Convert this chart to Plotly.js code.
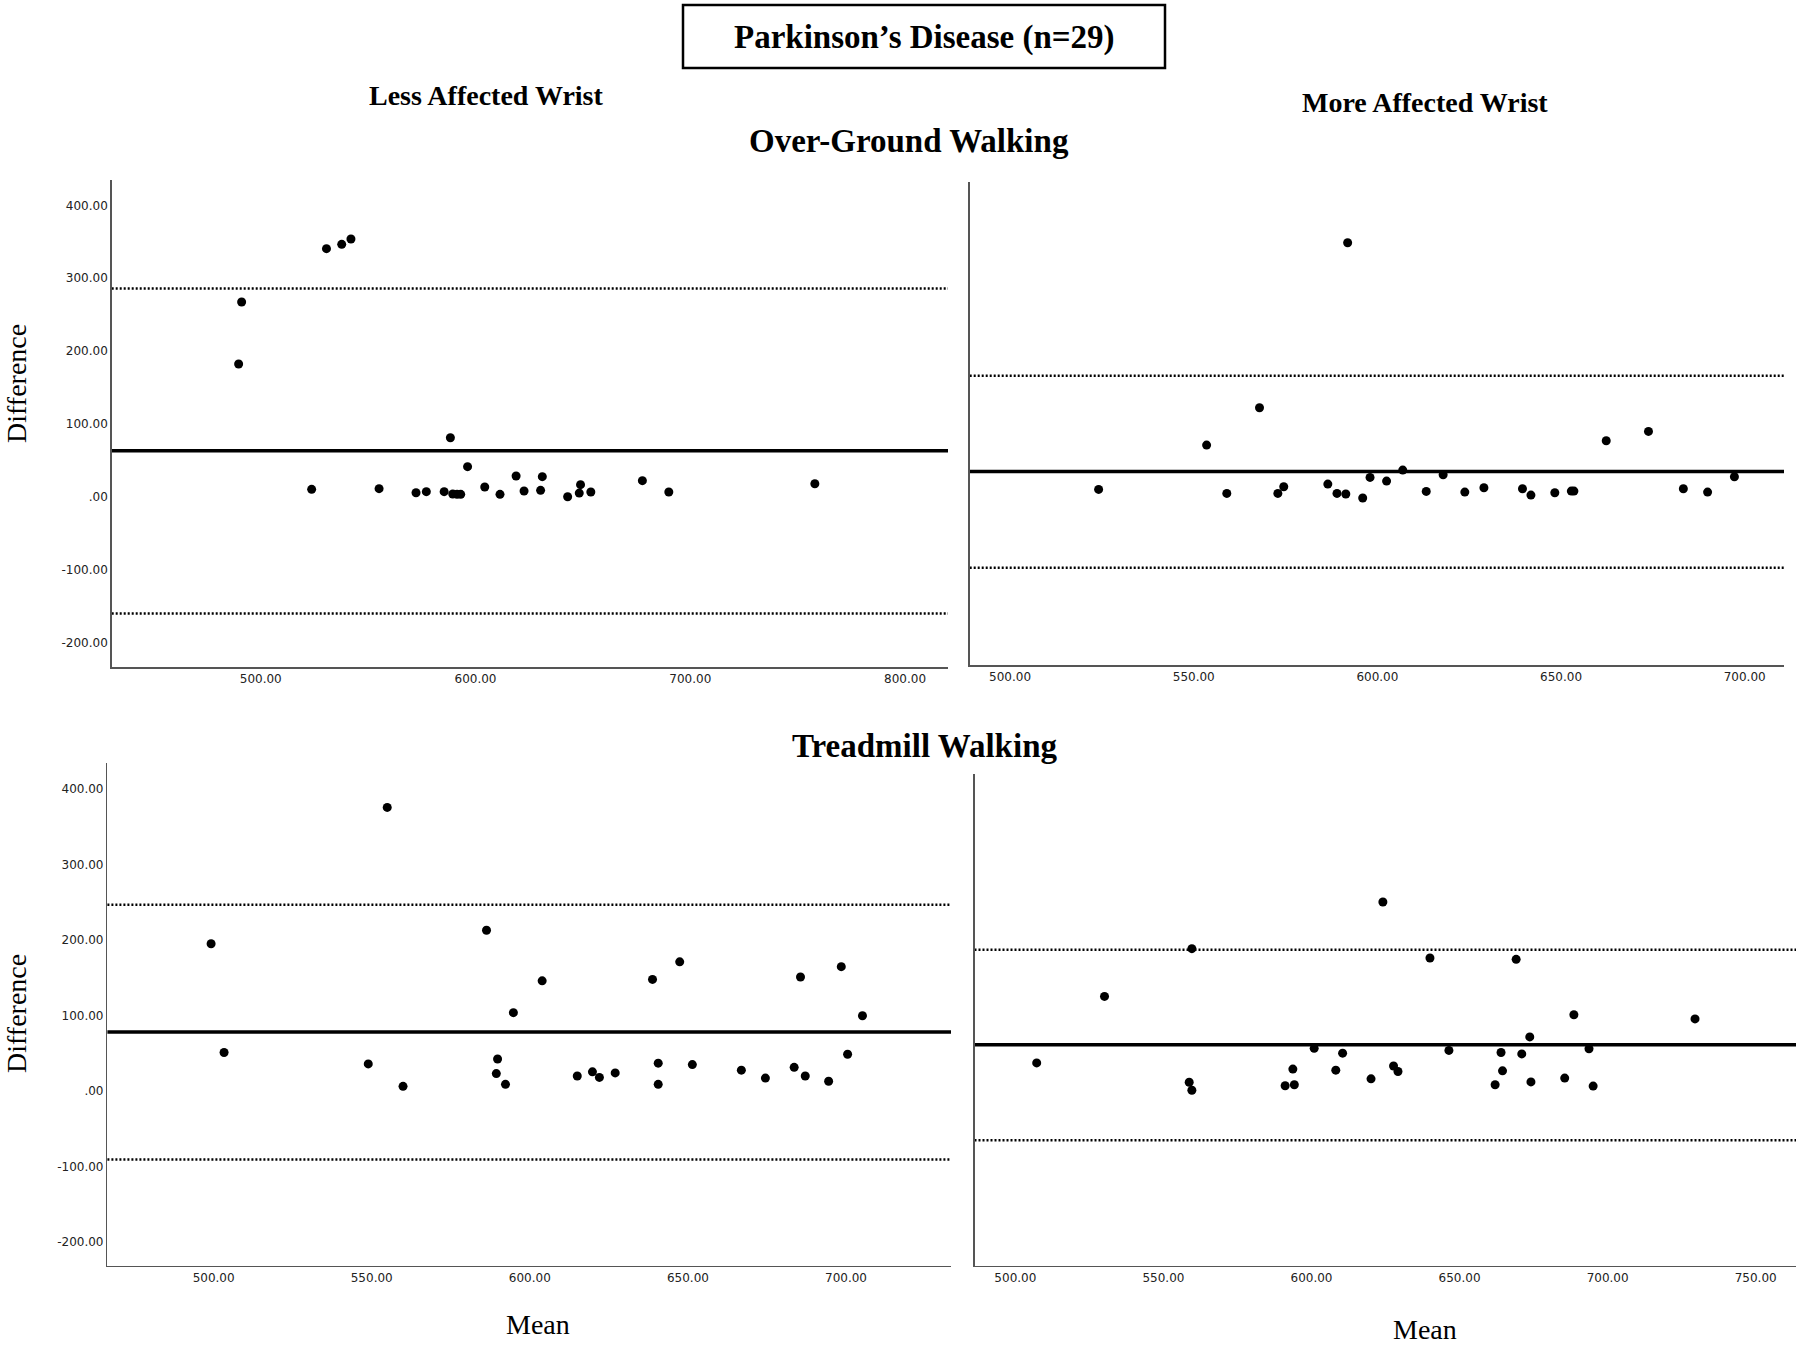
<!DOCTYPE html>
<html>
<head>
<meta charset="utf-8">
<script src="https://cdn.plot.ly/plotly-3.0.1.min.js"></script>
<style>html,body{margin:0;padding:0;background:#fff;}#chart{width:1800px;height:1349px;}</style>
</head>
<body>
<div id="chart"></div>
<script>
// ---- Data: Bland-Altman points (Mean, Difference) ----
// Over-ground walking, less affected wrist
const ogLessMean = [491.1, 489.7, 530.6, 537.7, 542.0, 523.7, 555.1, 572.3, 577.1, 585.4, 588.3, 589.4, 591.4, 593.1, 596.3, 604.3, 611.4, 618.9, 622.6, 630.3, 631.1, 642.9, 648.3, 648.9, 653.7, 677.7, 690.0, 758.0];
const ogLessDiff = [267.3, 182.2, 340.5, 346.5, 353.8, 10.1, 11.0, 5.5, 6.9, 6.9, 81.0, 3.7, 3.2, 3.2, 41.2, 13.3, 3.2, 28.4, 7.8, 8.7, 27.5, 0.0, 5.0, 16.5, 6.4, 22.0, 6.4, 17.8];
// Over-ground walking, more affected wrist
const ogMoreMean = [524.1, 553.5, 559.0, 567.9, 572.9, 574.5, 586.5, 589.0, 591.4, 591.9, 596.0, 598.0, 602.5, 606.9, 613.3, 617.9, 623.8, 629.0, 639.5, 641.8, 648.3, 652.8, 653.5, 662.3, 673.8, 683.3, 689.9, 697.2];
const ogMoreDiff = [10.1, 70.9, 4.6, 122.2, 4.6, 13.7, 17.4, 4.6, 3.7, 348.7, -1.8, 26.5, 21.5, 36.6, 7.3, 30.2, 6.4, 12.4, 11.0, 2.3, 5.5, 7.8, 7.8, 76.9, 89.7, 11.0, 6.4, 27.5];
// Treadmill walking, less affected wrist
const tmLessMean = [499.2, 503.3, 548.9, 554.9, 559.9, 586.3, 589.4, 589.8, 592.3, 594.8, 603.9, 615.0, 619.8, 622.0, 627.0, 638.8, 640.6, 640.6, 647.4, 651.4, 666.9, 674.5, 683.6, 685.6, 687.1, 694.5, 698.5, 700.5, 705.2];
const tmLessDiff = [194.8, 50.9, 35.7, 375.3, 6.0, 212.7, 22.9, 42.2, 8.7, 103.6, 145.7, 19.7, 25.2, 17.9, 23.8, 147.6, 36.7, 8.7, 170.9, 34.8, 27.5, 17.0, 31.2, 150.8, 19.7, 12.8, 164.5, 48.6, 99.5];
// Treadmill walking, more affected wrist
const tmMoreMean = [507.2, 530.1, 558.7, 559.6, 559.6, 591.1, 593.7, 594.2, 600.9, 608.2, 610.5, 620.1, 624.1, 627.7, 629.2, 640.0, 646.4, 662.0, 664.0, 664.5, 669.1, 671.0, 673.7, 674.1, 685.5, 688.6, 693.7, 695.1, 729.5];
const tmMoreDiff = [37.1, 125.1, 11.5, 188.4, 0.9, 6.9, 28.9, 8.2, 56.4, 27.5, 50.0, 16.0, 250.2, 33.0, 25.7, 176.0, 53.6, 8.2, 50.9, 26.6, 174.2, 49.0, 71.5, 11.9, 17.0, 100.8, 55.9, 6.4, 95.3];

// Bias (mean difference) and limits of agreement [lower, bias, upper]
const ogLessLines = [-160.3, 63.1, 285.8];
const ogMoreLines = [-97.5, 34.8, 166.0];
const tmLessLines = [-90.7, 77.9, 246.6];
const tmMoreLines = [-65.3, 61.0, 186.8];

// Tick labels
const yTickVals = [-200, -100, 0, 100, 200, 300, 400];
const yTickText = ['-200.00', '-100.00', '.00', '100.00', '200.00', '300.00', '400.00'];
const ogLessXTicks = [500, 600, 700, 800];
const ogMoreXTicks = [500, 550, 600, 650, 700];
const tmLessXTicks = [500, 550, 600, 650, 700];
const tmMoreXTicks = [500, 550, 600, 650, 700, 750];
const fmtTick = v => v.toFixed(2);

// Text
const mainTitle = 'Parkinson’s Disease (n=29)';
const colLess = 'Less Affected Wrist';
const colMore = 'More Affected Wrist';
const rowOG = 'Over-Ground Walking';
const rowTM = 'Treadmill Walking';
const yTitle = 'Difference';
const xTitle = 'Mean';

// ---- Build figure ----
const W = 1800, H = 1349;
const px = v => v / W;
const py = v => 1 - v / H;

const panels = [
  {mean: ogLessMean, diff: ogLessDiff, lines: ogLessLines, xt: ogLessXTicks, ax: '', xd: [111.7, 948], yd: [180, 667], xr: [430.6, 820], yr: [-233.8, 434.8], ylab: true},
  {mean: ogMoreMean, diff: ogMoreDiff, lines: ogMoreLines, xt: ogMoreXTicks, ax: '2', xd: [969.7, 1784], yd: [181.7, 665], xr: [489, 710.7], yr: [-231, 432.5], ylab: false},
  {mean: tmLessMean, diff: tmLessDiff, lines: tmLessLines, xt: tmLessXTicks, ax: '3', xd: [107.4, 951], yd: [763, 1265.7], xr: [466.4, 733.2], yr: [-231.4, 434.1], ylab: true},
  {mean: tmMoreMean, diff: tmMoreDiff, lines: tmMoreLines, xt: tmMoreXTicks, ax: '4', xd: [974.5, 1796], yd: [774, 1265.7], xr: [486.2, 763.6], yr: [-231.4, 419.6], ylab: false}
];

const tickFont = {family: 'DejaVu Sans, Verdana, sans-serif', size: 12, color: '#222'};
const traces = [];
const layout = {
  width: W, height: H,
  margin: {l: 0, r: 0, t: 0, b: 0},
  paper_bgcolor: '#fff', plot_bgcolor: '#fff',
  showlegend: false,
  shapes: [], annotations: []
};

panels.forEach(p => {
  const xa = 'x' + p.ax, ya = 'y' + p.ax;
  traces.push({
    type: 'scatter', mode: 'markers',
    x: p.mean, y: p.diff, xaxis: xa, yaxis: ya,
    marker: {size: 9, color: '#000'},
    hoverinfo: 'x+y'
  });
  layout['xaxis' + p.ax] = {
    domain: [px(p.xd[0]), px(p.xd[1])], range: p.xr, anchor: ya,
    showgrid: false, zeroline: false, showline: true, linecolor: '#555', linewidth: 1.5,
    ticks: '', tickvals: p.xt, ticktext: p.xt.map(fmtTick), tickfont: tickFont
  };
  layout['yaxis' + p.ax] = {
    domain: [py(p.yd[1]), py(p.yd[0])], range: p.yr, anchor: xa,
    showgrid: false, zeroline: false, showline: true, linecolor: '#555', linewidth: 1.5,
    ticks: '', tickvals: yTickVals, ticktext: yTickText, tickfont: tickFont,
    showticklabels: p.ylab
  };
  p.lines.forEach((v, i) => {
    layout.shapes.push({
      type: 'line', xref: xa + ' domain', yref: ya, x0: 0, x1: 1, y0: v, y1: v,
      layer: 'below',
      line: i === 1 ? {color: '#000', width: 3.5} : {color: '#000', width: 2.5, dash: '2px,2px'}
    });
  });
});

// Title box
layout.shapes.push({type: 'rect', xref: 'paper', yref: 'paper',
  x0: px(683), x1: px(1165), y0: py(68), y1: py(5), line: {color: '#000', width: 2.5}});

const serif = 'Liberation Serif, Times New Roman, serif';
function ann(text, x, y, size, bold, angle) {
  layout.annotations.push({
    text: text, xref: 'paper', yref: 'paper', x: px(x), y: py(y),
    xanchor: 'center', yanchor: 'middle', showarrow: false, textangle: angle || 0,
    font: {family: serif, size: size, color: '#000', weight: bold ? 'bold' : 'normal'}
  });
}
ann(mainTitle, 924, 38, 33, true);
ann(colLess, 486, 95, 28, true);
ann(colMore, 1425, 103, 28, true);
ann(rowOG, 909, 141, 33, true);
ann(rowTM, 924, 746, 33, true);
ann(yTitle, 16, 384, 28, false, -90);
ann(yTitle, 16, 1014, 28, false, -90);
ann(xTitle, 538, 1324, 28, false);
ann(xTitle, 1425, 1329, 28, false);

Plotly.newPlot('chart', traces, layout, {staticPlot: true});
</script>
</body>
</html>
